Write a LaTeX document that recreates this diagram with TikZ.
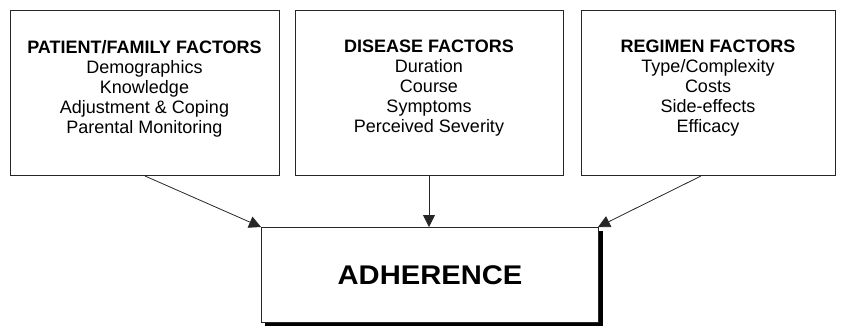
\documentclass[tikz,border=0pt]{standalone}
\usepackage{fontspec}
\setmainfont{Liberation Sans}
\usetikzlibrary{arrows.meta,positioning}
\begin{document}
\begin{tikzpicture}[x=1pt,y=-1pt,
  factorbox/.style={draw=black!85,line width=0.9pt,fill=white},
  boxtext/.style={align=center,anchor=north,inner sep=0pt,font=\fontsize{18}{20}\selectfont},
  link/.style={draw=black!85,line width=0.8pt,-{Triangle[length=12pt,width=12pt]}}
]
\useasboundingbox (0,0) rectangle (841,327);
% factor boxes
\draw[factorbox] (10,10) rectangle (279,175);
\draw[factorbox] (295,10) rectangle (563,175);
\draw[factorbox] (581,10) rectangle (835,175);
\coordinate (pf) at (145,176);
\coordinate (df) at (429,175);
\coordinate (rf) at (701,176);
\node[boxtext] (pft) at (144.5,40) {\textbf{PATIENT/FAMILY FACTORS}\\Demographics\\Knowledge\\Adjustment \& Coping\\Parental Monitoring};
\node[boxtext] (dft) at (429,40) {\textbf{DISEASE FACTORS}\\Duration\\Course\\Symptoms\\Perceived Severity};
\node[boxtext] (rft) at (708,40) {\textbf{REGIMEN FACTORS}\\Type/Complexity\\Costs\\Side-effects\\Efficacy};
% adherence box with shadow
\fill[black] (265,231) rectangle (603,326);
\draw[factorbox] (261,227) rectangle (598,322);
\node[font=\fontsize{27}{30}\selectfont\bfseries,xscale=1.08,transform shape,inner sep=0pt] (adh) at (430,275) {ADHERENCE};
\coordinate (al) at (261,227);
\coordinate (am) at (429,227);
\coordinate (ar) at (598,227);
\draw[link] (pf) -- (al);
\draw[link] (df) -- (am);
\draw[link] (rf) -- (ar);
\end{tikzpicture}
\end{document}
